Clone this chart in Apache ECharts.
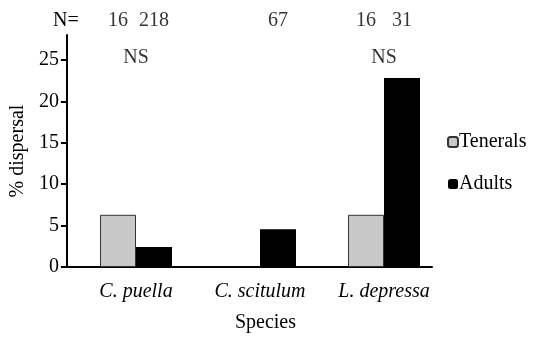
<!DOCTYPE html>
<html>
<head>
<meta charset="utf-8">
<script src="https://cdn.jsdelivr.net/npm/echarts@6/dist/echarts.min.js"></script>
<style>html,body{margin:0;padding:0;background:#fff}#c{width:535px;height:343px}</style>
</head>
<body>
<div id="c"></div>
<script>
const categories = ['C. puella', 'C. scitulum', 'L. depressa'];
const tenerals = [6.3, null, 6.3];
const adults = [2.4, 4.55, 22.8];
const nTenerals = ['16', '', '16'];
const nAdults = ['218', '67', '31'];
const nsLabels = ['NS', '', 'NS'];
const yTicks = [0, 5, 10, 15, 20, 25];

const FONT = 'Liberation Serif';
const BAR_W = 36;
const Y_MAX = 28;
const N_ROW = 29.7;
const NS_ROW = 25.3;

// warm up the font on an offscreen canvas
(function () {
  const cv = document.createElement('canvas');
  const ctx = cv.getContext('2d');
  ['20px ' + FONT, 'italic 20px ' + FONT].forEach(f => { ctx.font = f; ctx.fillText('Species C. puella 0123', 0, 20); });
})();

const txt = {color: '#000', fontFamily: FONT, fontSize: 20};

const option = {
  animation: false,
  grid: [
    {left: 66, top: 35, width: 366, height: 232},
    {left: 74, top: 35, width: 372, height: 232}
  ],
  xAxis: [
    {gridIndex: 0, type: 'value', min: 0, max: 1, axisLine: {show: true, onZero: false, lineStyle: {color: '#000', width: 2}},
     axisTick: {show: false}, axisLabel: {show: false}, splitLine: {show: false},
     name: 'Species', nameLocation: 'middle', nameGap: 46, nameTextStyle: Object.assign({}, txt, {padding: [0, 0, 0, 32]})},
    {gridIndex: 1, type: 'category', data: categories, axisLine: {show: false}, axisTick: {show: false},
     axisLabel: Object.assign({}, txt, {fontStyle: 'italic', margin: 15})}
  ],
  yAxis: [
    {gridIndex: 0, type: 'value', min: 0, max: Y_MAX,
     axisLine: {show: true, lineStyle: {color: '#000', width: 2}},
     axisTick: {show: true, length: 6, customValues: yTicks, lineStyle: {color: '#000', width: 2}},
     axisLabel: Object.assign({}, txt, {customValues: yTicks, margin: 8}),
     splitLine: {show: false},
     name: '% dispersal', nameLocation: 'middle', nameGap: 37, nameTextStyle: txt},
    {gridIndex: 1, type: 'value', min: 0, max: Y_MAX, show: false}
  ],
  legend: {
    orient: 'vertical', left: 442, top: 127, itemWidth: 10, itemHeight: 10, itemGap: 22,
    textStyle: Object.assign({}, txt, {padding: [0, 0, 0, -4]}),
    data: ['Tenerals', 'Adults']
  },
  graphic: [
    {type: 'text', left: 53, top: 11, style: {text: 'N=', fill: '#000', fontFamily: FONT, fontSize: 20}}
  ],
  series: [
    {name: 'Tenerals', type: 'bar', xAxisIndex: 1, yAxisIndex: 1, data: tenerals, barWidth: BAR_W, barGap: '0%',
     itemStyle: {color: '#c8c8c8', borderColor: '#333', borderWidth: 1}},
    {name: 'Adults', type: 'bar', xAxisIndex: 1, yAxisIndex: 1, data: adults, barWidth: BAR_W, barGap: '0%',
     itemStyle: {color: '#000'}},
    {type: 'scatter', xAxisIndex: 1, yAxisIndex: 1, clip: false, symbolSize: 0, silent: true,
     data: categories.map((c, i) => [i, N_ROW]),
     label: {show: true, position: 'inside', offset: [-BAR_W / 2, 0], formatter: p => nTenerals[p.dataIndex], ...txt}},
    {type: 'scatter', xAxisIndex: 1, yAxisIndex: 1, clip: false, symbolSize: 0, silent: true,
     data: categories.map((c, i) => [i, N_ROW]),
     label: {show: true, position: 'inside', offset: [BAR_W / 2, 0], formatter: p => nAdults[p.dataIndex], ...txt}},
    {type: 'scatter', xAxisIndex: 1, yAxisIndex: 1, clip: false, symbolSize: 0, silent: true,
     data: categories.map((c, i) => [i, NS_ROW]),
     label: {show: true, position: 'inside', formatter: p => nsLabels[p.dataIndex], ...txt}}
  ]
};

const chart = echarts.init(document.getElementById('c'));
chart.setOption(option);
[250, 600, 1100].forEach(t => setTimeout(() => {
  chart.clear();
  chart.setOption(option, true);
}, t));
</script>
</body>
</html>
